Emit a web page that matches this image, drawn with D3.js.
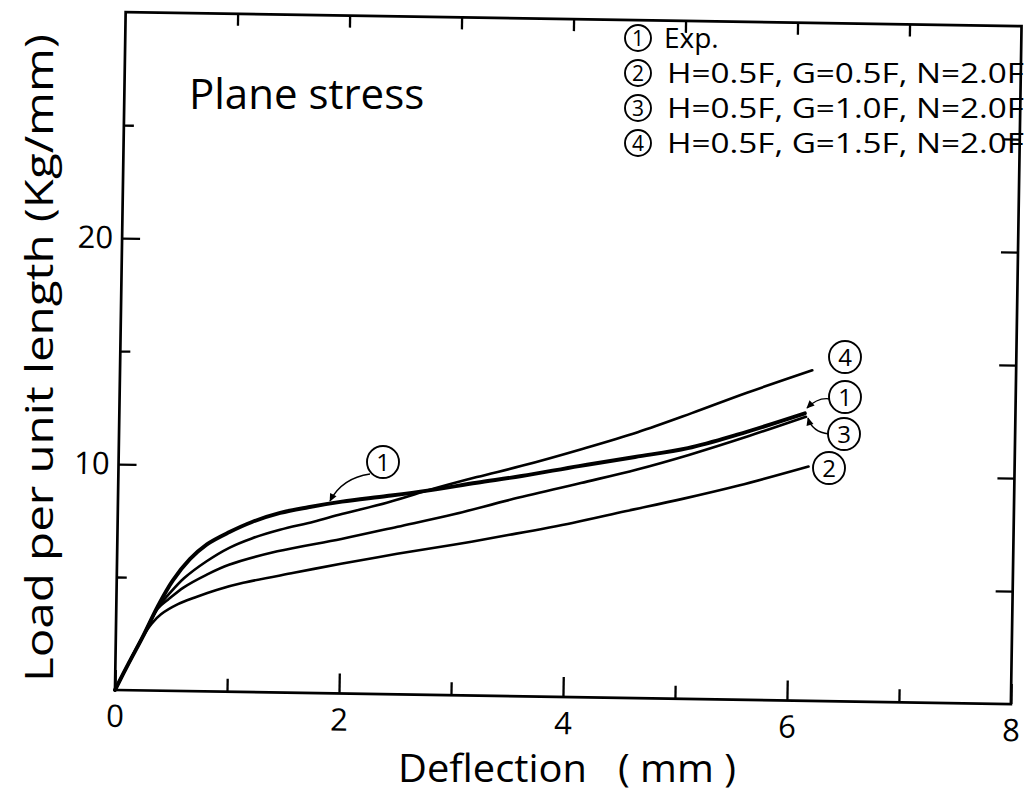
<!DOCTYPE html>
<html><head><meta charset="utf-8">
<script src="https://cdn.jsdelivr.net/npm/d3@7"></script>
<style>body{margin:0;background:#fff} svg{display:block} text{font-family:"Open Sans",sans-serif;fill:#000}</style>
</head><body><svg id="c" width="1032" height="795"></svg>
<script>
// ---- data ----
const xMajorTicks = [0, 2, 4, 6, 8];
const xMinorTicks = [1, 3, 5, 7];
const topTicks = [1, 2, 3, 4, 5, 6, 7];
const yMajorTicks = [10, 20];
const yMinorTicks = [5, 15, 25];
const rightTicks = [5, 10, 15, 20, 25];

const curve1Exp = [[0,0],[0.12,1.21],[0.24,2.37],[0.37,3.73],[0.5,4.88],[0.65,5.84],[0.8,6.51],[1.0,7.07],[1.2,7.53],[1.45,7.95],[1.7,8.22],[2.0,8.49],[2.4,8.77],[2.76,9.04],[3.2,9.42],[3.6,9.75],[4.11,10.23],[4.61,10.67],[5.08,11.1],[5.52,11.73],[6.12,12.72]];
const curve2 = [[0,0],[0.12,1.21],[0.24,2.37],[0.32,2.97],[0.4,3.38],[0.55,3.84],[0.7,4.15],[0.9,4.51],[1.13,4.83],[1.58,5.31],[2.0,5.74],[2.5,6.22],[3.0,6.66],[3.5,7.14],[4.06,7.71],[4.53,8.26],[5.04,8.85],[5.54,9.48],[6.16,10.37]];
const curve3 = [[0,0],[0.12,1.21],[0.24,2.37],[0.37,3.63],[0.46,4.03],[0.6,4.59],[0.8,5.16],[1.0,5.62],[1.43,6.25],[2.0,6.84],[2.5,7.42],[3.0,8.01],[3.5,8.69],[4.13,9.48],[4.63,10.12],[5.09,10.8],[5.63,11.69],[6.13,12.57]];
const curve4 = [[0,0],[0.12,1.21],[0.24,2.37],[0.37,3.68],[0.46,4.23],[0.6,4.99],[0.8,5.76],[1.0,6.37],[1.2,6.8],[1.45,7.2],[1.75,7.58],[2.0,7.94],[2.4,8.47],[2.76,9.04],[3.2,9.67],[3.6,10.2],[4.13,10.98],[4.63,11.77],[5.11,12.65],[5.6,13.59],[6.18,14.63]];

const legendNums = ["1", "2", "3", "4"];
const legendLabels = ["Exp.", "H=0.5F, G=0.5F, N=2.0F", "H=0.5F, G=1.0F, N=2.0F", "H=0.5F, G=1.5F, N=2.0F"];
const xTitle = "Deflection   ( mm )";
const yTitle = "Load per unit length (Kg/mm)";
const panelTitle = "Plane stress";

// ---- drawing ----
const svg = d3.select("#c");
svg.append("rect").attr("width",1032).attr("height",795).attr("fill","#fff");

const defs = svg.append("defs");
defs.append("marker").attr("id","arr").attr("viewBox","0 0 10 10").attr("refX",9).attr("refY",5)
  .attr("markerUnits","userSpaceOnUse").attr("markerWidth",14).attr("markerHeight",8).attr("orient","auto")
  .append("path").attr("d","M0,0.5L10,5L0,9.5Z").attr("fill","#000");

const x = d3.scaleLinear().domain([0,8]).range([115,1011]);
const y = d3.scaleLinear().domain([0,30]).range([690,12]);

const g = svg.append("g").attr("transform","rotate(0.9,115,690)");

g.append("rect").attr("x",x(0)).attr("y",y(30)).attr("width",x(8)-x(0)).attr("height",y(0)-y(30))
  .attr("fill","none").attr("stroke","#000").attr("stroke-width",2.7);

function styleAxis(sel){
  sel.select(".domain").remove();
  sel.selectAll("line").attr("stroke","#000").attr("stroke-width",2.3);
  sel.selectAll("text").attr("fill","#000").attr("font-size",31).attr("font-family","'Open Sans',sans-serif");
}
g.append("g").attr("transform",`translate(0,${y(0)})`)
  .call(d3.axisBottom(x).tickValues(xMajorTicks).tickSize(-20).tickPadding(15).tickFormat(d3.format("d"))).call(styleAxis);
g.append("g").attr("transform",`translate(0,${y(0)})`)
  .call(d3.axisBottom(x).tickValues(xMinorTicks).tickSize(-13).tickFormat("")).call(styleAxis);
g.append("g").attr("transform",`translate(0,${y(30)})`)
  .call(d3.axisTop(x).tickValues(topTicks).tickSize(-12).tickFormat("")).call(styleAxis);
g.append("g").attr("transform",`translate(${x(0)},0)`)
  .call(d3.axisLeft(y).tickValues(yMajorTicks).tickSize(-18).tickPadding(9).tickFormat(d3.format("d"))).call(styleAxis);
g.append("g").attr("transform",`translate(${x(0)},0)`)
  .call(d3.axisLeft(y).tickValues(yMinorTicks).tickSize(-10).tickFormat("")).call(styleAxis);
g.append("g").attr("transform",`translate(${x(8)},0)`)
  .call(d3.axisRight(y).tickValues(rightTicks).tickSize(-17).tickFormat("")).call(styleAxis);

const line = d3.line().x(d=>x(d[0])).y(d=>y(d[1])).curve(d3.curveCatmullRom.alpha(0.5));
const series = [
  {data: curve2, w: 2.6},
  {data: curve3, w: 2.6},
  {data: curve4, w: 2.6},
  {data: curve1Exp, w: 3.9}
];
g.selectAll("path.curve").data(series).join("path").attr("class","curve")
  .attr("d",d=>line(d.data)).attr("fill","none").attr("stroke","#000")
  .attr("stroke-width",d=>d.w).attr("stroke-linejoin","round").attr("stroke-linecap","round");

// ---- text & annotations ----
function circled(cx, cy, r, label, fs){
  svg.append("circle").attr("cx",cx).attr("cy",cy).attr("r",r).attr("fill","#fff").attr("stroke","#000").attr("stroke-width",1.9);
  svg.append("text").attr("x",cx).attr("y",cy).attr("dy","0.36em").attr("text-anchor","middle").attr("font-size",fs).text(label);
}

// legend
const legY = [38, 73, 108, 143];
legendNums.forEach((n,i)=>{
  circled(638, legY[i], 13, n, 21);
  const t = svg.append("text").attr("x", i===0?664:667).attr("y",legY[i]).attr("dy","0.36em").attr("font-size",28).text(legendLabels[i]);
  if(i>0) t.attr("textLength",357).attr("lengthAdjust","spacingAndGlyphs");
});

// panel title
svg.append("text").attr("x",189).attr("y",109).attr("font-size",42).text(panelTitle);

// axis titles
svg.append("text").attr("x",398).attr("y",782).attr("font-size",39).style("white-space","pre")
  .attr("textLength",338).attr("lengthAdjust","spacingAndGlyphs").text(xTitle);
svg.append("text").attr("transform","translate(53,358) rotate(-90)").attr("text-anchor","middle").attr("font-size",39)
  .attr("textLength",648).attr("lengthAdjust","spacingAndGlyphs").text(yTitle);

// curve annotations
function leader(d){
  svg.append("path").attr("d",d).attr("fill","none").attr("stroke","#000").attr("stroke-width",1.3).attr("marker-end","url(#arr)");
}
leader("M370,474 Q342,478 330,501");
leader("M830,399 Q818,397 807,408");
leader("M829,434 Q812,432 808,418");
circled(383, 462, 16, "1", 24);
circled(845, 357, 16, "4", 24);
circled(845, 397, 16, "1", 24);
circled(844, 434, 16, "3", 24);
circled(829, 468, 16, "2", 24);
</script></body></html>
